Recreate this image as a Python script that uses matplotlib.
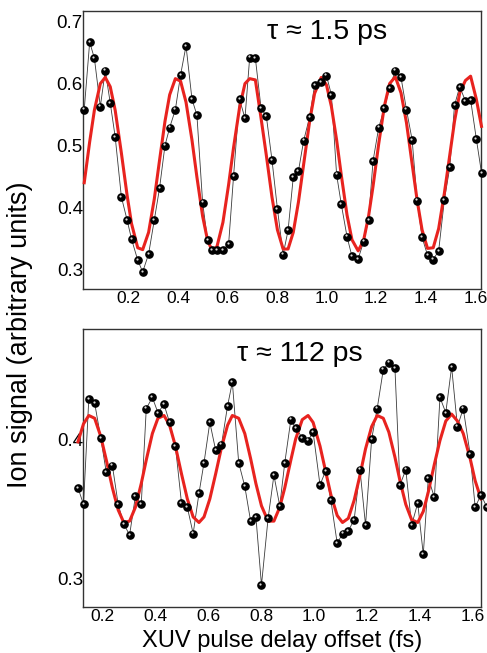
import matplotlib
matplotlib.use("Agg")
import matplotlib.pyplot as plt
from matplotlib.transforms import offset_copy

plt.rcParams['font.family'] = ['Liberation Sans', 'DejaVu Sans']

# top panel: tau ~ 1.5 ps
x_top = [0.021, 0.043, 0.062, 0.086, 0.106, 0.126, 0.146, 0.171, 0.194, 0.212,
         0.237, 0.257, 0.281, 0.304, 0.325, 0.347, 0.366, 0.389, 0.410, 0.432,
         0.456, 0.476, 0.499, 0.519, 0.537, 0.557, 0.581, 0.604, 0.624, 0.648,
         0.670, 0.689, 0.712, 0.735, 0.756, 0.779, 0.801, 0.824, 0.844, 0.865,
         0.886, 0.907, 0.931, 0.951, 0.978, 0.999, 1.019, 1.040, 1.059, 1.082,
         1.102, 1.127, 1.149, 1.169, 1.187, 1.210, 1.233, 1.254, 1.277, 1.300,
         1.322, 1.345, 1.365, 1.385, 1.407, 1.430, 1.452, 1.475, 1.497, 1.516,
         1.537, 1.560, 1.581, 1.604, 1.625]
y_top = [0.558, 0.667, 0.641, 0.563, 0.621, 0.569, 0.514, 0.417, 0.380, 0.349,
         0.315, 0.296, 0.325, 0.380, 0.431, 0.500, 0.529, 0.558, 0.614, 0.661,
         0.575, 0.549, 0.408, 0.347, 0.331, 0.331, 0.331, 0.341, 0.451, 0.575,
         0.544, 0.642, 0.641, 0.560, 0.548, 0.477, 0.398, 0.324, 0.363, 0.449,
         0.459, 0.508, 0.546, 0.597, 0.603, 0.613, 0.582, 0.453, 0.405, 0.353,
         0.321, 0.317, 0.345, 0.380, 0.475, 0.529, 0.561, 0.593, 0.621, 0.610,
         0.558, 0.509, 0.411, 0.352, 0.323, 0.316, 0.330, 0.412, 0.465, 0.565,
         0.595, 0.572, 0.574, 0.511, 0.456]
fit_top = [0.440, 0.506, 0.557, 0.600, 0.610, 0.595, 0.557, 0.488, 0.420, 0.374,
           0.335, 0.332, 0.360, 0.414, 0.476, 0.539, 0.582, 0.608, 0.604, 0.570,
           0.509, 0.449, 0.386, 0.347, 0.331, 0.337, 0.376, 0.437, 0.497, 0.561,
           0.600, 0.608, 0.606, 0.544, 0.485, 0.417, 0.364, 0.333, 0.333, 0.360,
           0.409, 0.470, 0.539, 0.584, 0.610, 0.598, 0.563, 0.509, 0.452, 0.388,
           0.348, 0.330, 0.347, 0.386, 0.434, 0.503, 0.564, 0.600, 0.611, 0.585,
           0.537, 0.470, 0.412, 0.364, 0.334, 0.335, 0.366, 0.423, 0.485, 0.539,
           0.585, 0.605, 0.612, 0.575, 0.531]

# bottom panel: tau ~ 112 ps
x_bot = [0.108, 0.129, 0.149, 0.171, 0.194, 0.215, 0.238, 0.260, 0.281, 0.303,
         0.325, 0.347, 0.366, 0.389, 0.410, 0.433, 0.454, 0.476, 0.499, 0.521,
         0.543, 0.565, 0.584, 0.606, 0.628, 0.650, 0.673, 0.691, 0.715, 0.738,
         0.760, 0.780, 0.801, 0.826, 0.848, 0.870, 0.889, 0.912, 0.930, 0.955,
         0.977, 0.996, 1.022, 1.043, 1.063, 1.087, 1.107, 1.129, 1.151, 1.173,
         1.194, 1.217, 1.238, 1.261, 1.282, 1.305, 1.324, 1.346, 1.368, 1.391,
         1.412, 1.431, 1.454, 1.475, 1.497, 1.519, 1.541, 1.563, 1.589, 1.608,
         1.630, 1.652]
y_bot = [0.365, 0.353, 0.429, 0.426, 0.401, 0.376, 0.381, 0.353, 0.339, 0.331,
         0.359, 0.353, 0.422, 0.430, 0.419, 0.425, 0.412, 0.395, 0.354, 0.351,
         0.332, 0.361, 0.383, 0.412, 0.392, 0.396, 0.424, 0.441, 0.383, 0.366,
         0.341, 0.344, 0.295, 0.343, 0.374, 0.352, 0.383, 0.414, 0.408, 0.401,
         0.399, 0.405, 0.367, 0.377, 0.356, 0.325, 0.332, 0.334, 0.342, 0.378,
         0.338, 0.400, 0.422, 0.450, 0.455, 0.451, 0.367, 0.378, 0.338, 0.354,
         0.317, 0.372, 0.358, 0.430, 0.419, 0.452, 0.409, 0.422, 0.389, 0.351,
         0.360, 0.351]
fit_bot = [0.398, 0.411, 0.417, 0.415, 0.402, 0.385, 0.365, 0.349, 0.340, 0.341,
           0.351, 0.368, 0.385, 0.404, 0.415, 0.417, 0.410, 0.395, 0.375, 0.357,
           0.344, 0.340, 0.344, 0.357, 0.375, 0.394, 0.410, 0.417, 0.415, 0.404,
           0.386, 0.368, 0.352, 0.341, 0.341, 0.351, 0.365, 0.385, 0.400, 0.414,
           0.417, 0.412, 0.395, 0.377, 0.360, 0.345, 0.340, 0.343, 0.356, 0.374,
           0.393, 0.409, 0.417, 0.415, 0.405, 0.387, 0.370, 0.353, 0.342, 0.340,
           0.348, 0.362, 0.382, 0.399, 0.413, 0.418, 0.413, 0.404, 0.386, 0.370,
           0.357]

xticks = [0.2, 0.4, 0.6, 0.8, 1.0, 1.2, 1.4, 1.6]
yticks_top = [0.3, 0.4, 0.5, 0.6, 0.7]
yticks_bot = [0.3, 0.4]

fig = plt.figure(figsize=(4.87, 6.53), dpi=100)
ax1 = fig.add_axes([0.1704, 0.5570, 0.8173, 0.4269])
ax2 = fig.add_axes([0.1704, 0.0700, 0.8173, 0.4257])


def draw(ax, x, y, fit, label, lx, ly):
    ax.plot(x, y, color='#3a3a3a', lw=0.6, zorder=2, clip_on=False)
    ax.plot(x[:len(fit)], fit, color='#e8231f', lw=2.2, zorder=3, clip_on=False)
    ax.plot(x, y, ls='none', marker='o', ms=5.2, mfc='black', mec='black',
            zorder=4, clip_on=False)
    # little highlight to get the shaded-ball look
    hl = offset_copy(ax.transData, fig=fig, x=-1.0, y=1.2, units='dots')
    ax.plot(x, y, ls='none', marker='o', ms=1.6, mfc='#d8d8d8', mec='none',
            transform=hl, zorder=5, clip_on=False)
    ax.text(lx, ly, label, transform=ax.transAxes, ha='center', va='center',
            fontsize=20.5)
    ax.set_xticks(xticks)
    ax.set_xticklabels([f'{t:.1f}' for t in xticks])
    ax.tick_params(length=0, labelsize=12.5, pad=1)
    ax.tick_params(axis='y', pad=0, labelsize=13.5)
    for s in ax.spines.values():
        s.set_color('#333333')
        s.set_linewidth(1.0)


draw(ax1, x_top, y_top, fit_top, '\u03c4 \u2248 1.5 ps', 0.614, 0.923)
ax1.set_xlim(0.016, 1.623)
ax1.set_ylim(0.268, 0.718)
ax1.set_yticks(yticks_top)
ax1.set_yticklabels([f'{t:.1f}' for t in yticks_top])

draw(ax2, x_bot, y_bot, fit_bot, '\u03c4 \u2248 112 ps', 0.545, 0.911)
ax2.set_xlim(0.127, 1.630)
ax2.set_ylim(0.279, 0.479)
ax2.set_yticks(yticks_bot)
ax2.set_yticklabels([f'{t:.1f}' for t in yticks_bot])

fig.text(0.041, 0.487, 'Ion signal (arbitrary units)', rotation=90,
         ha='center', va='center', fontsize=19.5)
fig.text(0.579, 0.018, 'XUV pulse delay offset (fs)', ha='center', va='center',
         fontsize=17)

fig.savefig('out.png', dpi=100)
